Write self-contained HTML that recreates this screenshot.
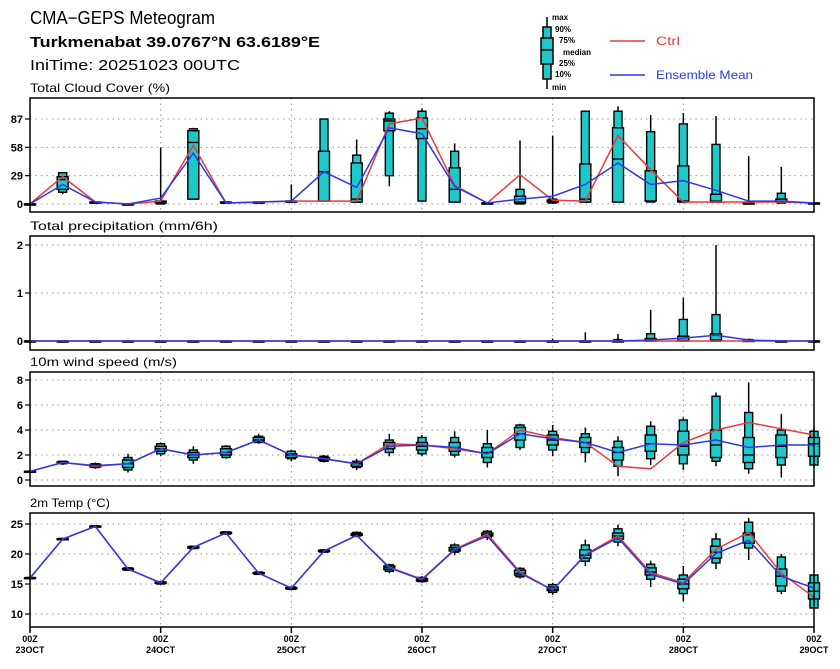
<!DOCTYPE html>
<html><head><meta charset="utf-8"><style>
body{margin:0;background:#fff;width:840px;height:664px;overflow:hidden}
svg text{font-family:"Liberation Sans",sans-serif}
</style></head><body>
<svg id="c" width="840" height="664" xmlns="http://www.w3.org/2000/svg">
<text x="30" y="24" font-size="18" textLength="185" lengthAdjust="spacingAndGlyphs">CMA−GEPS Meteogram</text>
<text x="30" y="47" font-size="15" font-weight="bold" textLength="290" lengthAdjust="spacingAndGlyphs">Turkmenabat 39.0767°N 63.6189°E</text>
<text x="30" y="70" font-size="15" textLength="210" lengthAdjust="spacingAndGlyphs">IniTime: 20251023 00UTC</text>
<g>
<line x1="547" y1="17" x2="547" y2="89" stroke="#000" stroke-width="1.5"/>
<rect x="543" y="27" width="8" height="52" fill="#1ec8c8" stroke="#000" stroke-width="1.5"/>
<rect x="541" y="38" width="12" height="26" fill="#1ec8c8" stroke="#000" stroke-width="1.5"/>
<line x1="541" y1="50" x2="553" y2="50" stroke="#000" stroke-width="1.5"/>
<g font-size="8" font-weight="bold">
<text x="552" y="20">max</text><text x="555" y="32">90%</text><text x="559" y="43">75%</text><text x="563" y="55">median</text><text x="559" y="66">25%</text><text x="555" y="77">10%</text><text x="552" y="90">min</text></g>
<line x1="610" y1="41" x2="645" y2="41" stroke="#e83a3a" stroke-width="1.5"/>
<text x="656" y="45" font-size="12" fill="#e83a3a" textLength="24" lengthAdjust="spacingAndGlyphs">Ctrl</text>
<line x1="610" y1="75" x2="645" y2="75" stroke="#2a3ae8" stroke-width="1.5"/>
<text x="656" y="79" font-size="12" fill="#2a3ae8" textLength="97" lengthAdjust="spacingAndGlyphs">Ensemble Mean</text>
</g>
</svg>
<script>
// ---- Cloud cover (%) ----
const cloudMin=[0,10,2,0,0,5,1,2,2,3,2,18,3,2,1,0,0,2,2,2,1,2,0,1,1];
const cloudP10=[0,12,2,0,0,5,1,2,2,3,2,29,3,2,1,0,1,2,2,2,2,2,0,1,1];
const cloudP25=[0,15,2,0,1,5,1,2,2,3,2,75,67,2,1,1,2,2,2,3,2,2,1,2,1];
const cloudMed=[0,25,2,0,2,63,1,2,3,33,5,85,77,15,1,2,3,5,46,3,3,3,1,2,1];
const cloudP75=[0,28,2,0,3,75,2,2,3,54,42,87,88,37,1,8,4,41,78,34,39,10,1,5,1];
const cloudP90=[0,32,2,0,3,77,2,2,3,87,50,93,95,54,1,15,5,95,95,74,82,61,1,11,1];
const cloudMax=[0,32,3,1,58,78,2,2,20,87,66,95,98,62,1,65,70,95,100,91,93,90,49,38,1];
const cloudCtrl=[0,28,2,0,3,60,1,2,3,3,3,82,88,19,1,30,4,3,70,35,2,2,2,2,1];
const cloudMean=[0,20,2,0,6,52,1,2,3,33,17,78,72,18,1,5,8,20,42,20,24,14,3,3,1];
const cloudTicks=[0,29,58,87];
// ---- Precipitation (mm/6h) ----
const prMin=[0,0,0,0,0,0,0,0,0,0,0,0,0,0,0,0,0,0,0,0,0,0,0,0,0];
const prP10=[0,0,0,0,0,0,0,0,0,0,0,0,0,0,0,0,0,0,0,0,0,0,0,0,0];
const prP25=[0,0,0,0,0,0,0,0,0,0,0,0,0,0,0,0,0,0,0,0,0,0,0,0,0];
const prMed=[0,0,0,0,0,0,0,0,0,0,0,0,0,0,0,0,0,0,0,0,0.01,0.02,0,0,0];
const prP75=[0,0,0,0,0,0,0,0,0,0,0,0,0,0,0,0,0,0,0,0.05,0.1,0.15,0.01,0,0];
const prP90=[0,0,0,0,0,0,0,0,0,0,0,0,0,0,0,0,0,0,0.03,0.15,0.45,0.55,0.03,0,0];
const prMax=[0,0,0,0,0,0,0,0,0,0,0,0,0,0,0,0.02,0.05,0.18,0.15,0.65,0.9,2.0,0.05,0,0];
const prCtrl=[0,0,0,0,0,0,0,0,0,0,0,0,0,0,0,0,0,0,0,0,0,0,0,0,0];
const prMean=[0,0,0,0,0,0,0,0,0,0,0,0,0,0,0,0,0,0,0,0.02,0.06,0.12,0.02,0,0];
const prTicks=[0,1,2];
// ---- Wind (m/s) ----
const wMin=[0.7,1.2,0.9,0.6,1.9,1.3,1.7,2.9,1.5,1.4,0.8,1.9,1.9,1.8,1.0,2.4,1.9,1.4,0.3,1.2,0.8,1.1,0.5,0.2,1.0];
const wP10=[0.7,1.3,1.0,0.8,2.1,1.6,1.8,3.0,1.7,1.5,1.0,2.2,2.1,2.0,1.4,2.6,2.4,2.2,1.1,1.7,1.3,1.5,0.9,1.2,1.2];
const wP25=[0.7,1.35,1.05,1.0,2.3,1.8,2.0,3.1,1.8,1.6,1.1,2.5,2.4,2.3,1.8,3.2,2.8,2.6,1.6,2.3,2.0,1.8,1.4,1.8,1.9];
const wMed=[0.7,1.4,1.15,1.3,2.5,2.0,2.2,3.2,2.0,1.7,1.3,2.7,2.7,2.6,2.2,3.7,3.2,3.0,2.2,2.9,2.7,2.8,2.0,2.7,2.9];
const wP75=[0.7,1.45,1.25,1.6,2.7,2.2,2.5,3.4,2.1,1.8,1.4,3.0,3.0,3.0,2.6,4.2,3.6,3.4,2.6,3.6,3.9,4.0,3.4,3.6,3.4];
const wP90=[0.7,1.5,1.3,1.8,2.9,2.4,2.7,3.5,2.3,1.9,1.5,3.2,3.4,3.4,2.9,4.4,3.9,3.7,3.1,4.3,4.8,6.7,5.4,4.0,3.9];
const wMax=[0.7,1.5,1.4,2.1,3.0,2.7,2.8,3.7,2.4,2.0,1.7,3.7,3.6,3.9,4.0,4.5,4.4,4.2,3.5,4.7,5.0,7.0,7.8,5.3,4.2];
const wCtrl=[0.7,1.4,1.1,1.3,2.5,2.0,2.2,3.2,2.0,1.7,1.3,2.9,2.8,2.5,2.1,4.0,3.4,3.0,1.1,0.9,3.0,4.0,4.6,4.1,3.6];
const wMean=[0.7,1.4,1.15,1.3,2.5,2.0,2.2,3.2,2.0,1.7,1.3,2.7,2.8,2.6,2.1,3.7,3.3,3.0,2.2,2.9,2.8,3.2,2.6,2.8,2.8];
const wTicks=[0,2,4,6,8];
// ---- Temperature (°C) ----
const tMin=[15.8,22.3,24.4,17.2,14.9,20.8,23.2,16.5,14.0,20.2,22.8,16.8,15.2,19.8,22.3,15.9,13.2,18.0,21.3,14.5,12.1,17.5,19.0,13.3,11.0];
const tP10=[15.9,22.4,24.5,17.3,15.0,20.9,23.3,16.6,14.1,20.3,23.0,17.1,15.4,20.3,22.8,16.2,13.6,18.8,22.0,15.8,13.4,18.5,21.0,13.8,11.0];
const tP25=[15.95,22.45,24.55,17.4,15.1,21.0,23.4,16.7,14.2,20.4,23.1,17.4,15.5,20.5,23.0,16.5,13.9,19.3,22.5,16.5,14.2,19.3,21.8,14.7,12.5];
const tMed=[16,22.5,24.6,17.5,15.2,21.1,23.5,16.8,14.3,20.5,23.2,17.7,15.7,20.8,23.2,16.8,14.1,19.8,23.0,17.0,15.0,20.3,23.2,16.3,13.8];
const tP75=[16.05,22.55,24.65,17.6,15.3,21.2,23.6,16.9,14.4,20.6,23.4,18.0,15.9,21.1,23.5,17.3,14.5,20.7,23.5,17.7,15.8,21.3,23.5,17.5,15.2];
const tP90=[16.1,22.6,24.7,17.7,15.4,21.3,23.7,17.0,14.5,20.7,23.6,18.2,16.1,21.5,23.8,17.6,14.9,21.5,24.2,18.3,16.5,22.5,25.3,19.5,16.5];
const tMax=[16.2,22.7,24.8,17.8,15.5,21.4,23.8,17.1,14.6,20.8,23.8,18.4,16.3,21.8,24.0,17.8,15.2,22.4,24.9,18.9,18.0,23.5,26.0,20.0,16.5];
const tCtrl=[16,22.5,24.6,17.5,15.2,21.1,23.5,16.8,14.3,20.5,23.1,17.8,15.8,20.8,23.3,17.0,14.0,19.9,23.0,16.9,15.2,20.8,23.6,16.8,12.8];
const tMean=[16,22.5,24.6,17.5,15.2,21.1,23.5,16.8,14.3,20.5,23.1,17.7,15.7,20.7,23.0,16.8,14.0,19.8,22.7,16.6,15.0,20.1,22.3,16.3,14.3];
const tTicks=[10,15,20,25];
const dayLabels=["23OCT","24OCT","25OCT","26OCT","27OCT","28OCT","29OCT"];

const svg=document.getElementById('c');
const NS='http://www.w3.org/2000/svg';
const X0=30,X1=814,NSTEP=24;
function xs(i){return X0+(X1-X0)*i/NSTEP;}
function mk(tag,attrs,parent){const e=document.createElementNS(NS,tag);for(const k in attrs)e.setAttribute(k,attrs[k]);(parent||svg).appendChild(e);return e;}

function panel(name,title,titleLen,top,bot,v0,y0,v1,y1,ticks,d){
  const ys=v=>y0+(v-v0)*(y1-y0)/(v1-v0);
  const g=mk('g',{});
  
  
  const t=mk('text',{x:30,y:top-6,'font-size':12,textLength:titleLen,lengthAdjust:'spacingAndGlyphs'},g);t.textContent=title;
  
  
  for(let dd=1;dd<6;dd++){const gx=xs(dd*4);const l=mk('line',{x1:gx,x2:gx,y1:top,y2:bot,stroke:'#999','stroke-dasharray':'1.5,4','stroke-width':1},g);
    
    }
  ticks.forEach(v=>{const y=ys(v);
    const l=mk('line',{x1:X0,x2:X1,y1:y,y2:y,stroke:'#999','stroke-dasharray':'1.5,4','stroke-width':1},g);
    
    
    mk('line',{x1:X0-5,x2:X0,y1:y,y2:y,stroke:'#000','stroke-width':1.2},g);
    const tx=mk('text',{x:X0-7,y:y+4,'font-size':11,'font-weight':'bold','text-anchor':'end'},g);
    tx.textContent=v;
    
    });
  for(let i=0;i<=NSTEP;i++){
    const x=xs(i);const bg=mk('g',{},g);
    
    
    const mn=ys(d.min[i]),mx=ys(d.max[i]);
    mk('line',{x1:x,x2:x,y1:mx,y2:mn,stroke:'#000','stroke-width':1.5},bg);
    const a=ys(d.p90[i]),b=ys(d.p10[i]);
    mk('rect',{x:x-4,y:a,width:8,height:Math.max(b-a,1),fill:'#1ec8c8',stroke:'#000','stroke-width':1.4},bg);
    const c=ys(d.p75[i]),e=ys(d.p25[i]);
    mk('rect',{x:x-5.5,y:c,width:11,height:Math.max(e-c,1),fill:'#1ec8c8',stroke:'#000','stroke-width':1.4},bg);
    const m=ys(d.med[i]);
    mk('line',{x1:x-5.5,x2:x+5.5,y1:m,y2:m,stroke:'#000','stroke-width':1.4},bg);
  }
  const pts=arr=>arr.map((v,i)=>xs(i).toFixed(1)+','+ys(v).toFixed(1)).join(' ');
  const pc=mk('polyline',{points:pts(d.ctrl),fill:'none',stroke:'#e83a3a','stroke-width':1.5},g);
  
  
  const pm=mk('polyline',{points:pts(d.mean),fill:'none',stroke:'#2a3ae8','stroke-width':1.5},g);
  
  
  const fr=mk('rect',{x:X0,y:top,width:X1-X0,height:bot-top,fill:'none',stroke:'#000','stroke-width':1.5},g);
  
  
}
panel('cloud','Total Cloud Cover (%)',140,98,212,0,204,87,119,cloudTicks,{min:cloudMin,p10:cloudP10,p25:cloudP25,med:cloudMed,p75:cloudP75,p90:cloudP90,max:cloudMax,ctrl:cloudCtrl,mean:cloudMean});
panel('precip','Total precipitation (mm/6h)',188,236,350,0,341,1,293,prTicks,{min:prMin,p10:prP10,p25:prP25,med:prMed,p75:prP75,p90:prP90,max:prMax,ctrl:prCtrl,mean:prMean});
panel('wind','10m wind speed (m/s)',147,372,486,0,480,2,455,wTicks,{min:wMin,p10:wP10,p25:wP25,med:wMed,p75:wP75,p90:wP90,max:wMax,ctrl:wCtrl,mean:wMean});
panel('temp','2m Temp (°C)',80,513,627,10,614,25,524,tTicks,{min:tMin,p10:tP10,p25:tP25,med:tMed,p75:tP75,p90:tP90,max:tMax,ctrl:tCtrl,mean:tMean});
dayLabels.forEach((lab,k)=>{const x=xs(k*4);
  mk('line',{x1:x,x2:x,y1:627,y2:633,stroke:'#000','stroke-width':1.5});
  const a=mk('text',{x:x,y:642,'font-size':9,'font-weight':'bold','text-anchor':'middle'});a.textContent='00Z';
  
  
  const b=mk('text',{x:x,y:653,'font-size':9,'font-weight':'bold','text-anchor':'middle'});b.textContent=lab;
  
  
});
</script>
</body></html>
